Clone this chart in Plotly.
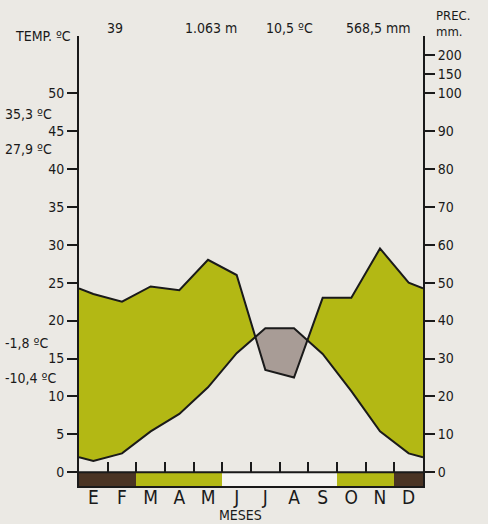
import plotly.graph_objects as go

# ---------------- data ----------------
months = ["E", "F", "M", "A", "M", "J", "J", "A", "S", "O", "N", "D"]
temp_c = [1.5, 2.5, 5.4, 7.7, 11.2, 15.7, 19.0, 19.0, 15.6, 10.7, 5.4, 2.5]
prec_mm = [47, 45, 49, 48, 56, 52, 27, 25, 46, 46, 59, 50]
frost = ["segura", "segura", "probable", "probable", "probable", "libre",
         "libre", "libre", "libre", "probable", "probable", "segura"]
temp_ticks = [0, 5, 10, 15, 20, 25, 30, 35, 40, 45, 50]
prec_ticks = [0, 10, 20, 30, 40, 50, 60, 70, 80, 90, 100, 150, 200]
header_vals = ["39", "1.063 m", "10,5 ºC", "568,5 mm"]
side_vals = ["35,3 ºC", "27,9 ºC", "-1,8 ºC", "-10,4 ºC"]

# ---------------- style ----------------
BG = "#ebe9e4"
GREEN = "#b3b814"
GRAY = "#a89c96"
frost_colors = {"segura": "#4a3424", "probable": GREEN, "libre": "#f5f4f0"}
FONT = "Liberation Sans Narrow, Arial Narrow, DejaVu Sans Condensed, sans-serif"
INK = "#1a1a1a"


def prec_axis(mm):
    """Walter-Lieth scale: 20 mm = 10 ºC up to 100 mm, then 1/10."""
    return mm / 2 if mm <= 100 else 50 + (mm - 100) / 20


n = len(months)
xm = [i + 0.5 for i in range(n)]
t_edge = (temp_c[0] + temp_c[-1]) / 2
p_edge = (prec_mm[0] + prec_mm[-1]) / 2
X = [0] + xm + [n]
T = [t_edge] + temp_c + [t_edge]
P = [prec_axis(p_edge)] + [prec_axis(v) for v in prec_mm] + [prec_axis(p_edge)]

# insert crossing points so both fills meet exactly
XX, TT, PP = [X[0]], [T[0]], [P[0]]
for i in range(1, len(X)):
    d0, d1 = P[i - 1] - T[i - 1], P[i] - T[i]
    if d0 * d1 < 0:
        f = d0 / (d0 - d1)
        xc = X[i - 1] + f * (X[i] - X[i - 1])
        yc = T[i - 1] + f * (T[i] - T[i - 1])
        XX.append(xc); TT.append(yc); PP.append(yc)
    XX.append(X[i]); TT.append(T[i]); PP.append(P[i])
MX = [max(a, b) for a, b in zip(TT, PP)]

Y0, Y1 = -1.8, 57.5

fig = go.Figure()
# frost band
fig.add_trace(go.Bar(x=xm, y=[-Y0] * n, base=[Y0] * n, width=1,
                     marker=dict(color=[frost_colors[f] for f in frost], line_width=0),
                     hoverinfo="skip", showlegend=False))
# humid fill
fig.add_trace(go.Scatter(x=XX, y=TT, mode="lines", line=dict(width=0), showlegend=False, hoverinfo="skip"))
fig.add_trace(go.Scatter(x=XX, y=MX, mode="lines", line=dict(width=0), fill="tonexty",
                         fillcolor=GREEN, showlegend=False, hoverinfo="skip"))
# arid fill
fig.add_trace(go.Scatter(x=XX, y=PP, mode="lines", line=dict(width=0), showlegend=False, hoverinfo="skip"))
fig.add_trace(go.Scatter(x=XX, y=MX, mode="lines", line=dict(width=0), fill="tonexty",
                         fillcolor=GRAY, showlegend=False, hoverinfo="skip"))
# lines
fig.add_trace(go.Scatter(x=X, y=T, mode="lines", line=dict(color=INK, width=2), showlegend=False))
fig.add_trace(go.Scatter(x=X, y=P, mode="lines", line=dict(color=INK, width=2), showlegend=False,
                         yaxis="y2"))
# helper trace for month-boundary tick axis
fig.add_trace(go.Scatter(x=[0], y=[0], mode="markers", marker=dict(opacity=0), showlegend=False,
                         hoverinfo="skip", xaxis="x2"))

axis_common = dict(showgrid=False, zeroline=False, linecolor=INK, linewidth=2, automargin=False,
                   tickcolor=INK, tickwidth=2, tickfont=dict(family=FONT, size=14, color=INK))

fig.update_layout(
    width=488, height=524,
    margin=dict(l=79, r=65, t=36, b=38),
    paper_bgcolor=BG, plot_bgcolor=BG,
    bargap=0,
    xaxis=dict(range=[0, n], showline=True, linecolor=INK, linewidth=2, showgrid=False,
               zeroline=False, tickvals=xm, ticktext=months, ticks="", automargin=False,
               tickfont=dict(family=FONT, size=19, color=INK), ticklabelstandoff=-7),
    xaxis2=dict(range=[0, n], overlaying="x", anchor="free", automargin=False,
                position=(0 - Y0) / (Y1 - Y0), showline=False, showgrid=False, zeroline=False,
                tickvals=list(range(1, n)), ticks="inside", ticklen=10, tickwidth=2,
                tickcolor=INK, showticklabels=False),
    yaxis=dict(range=[Y0, Y1], showline=True, tickvals=temp_ticks, ticks="outside", ticklen=10,
               **axis_common),
    yaxis2=dict(range=[Y0, Y1], overlaying="y", side="right", showline=True,
                tickvals=[prec_axis(v) for v in prec_ticks],
                ticktext=[str(v) for v in prec_ticks], ticks="outside", ticklen=10,
                **axis_common),
    shapes=[dict(type="line", xref="x", yref="y", x0=0, x1=n, y0=0, y1=0,
                 line=dict(color=INK, width=2))],
)

L, R, TOP, BOT = 79, 423, 36, 486


def ann(text, xp, yp, size=15, xanchor="center"):
    fig.add_annotation(text=text, xref="paper", yref="paper",
                       x=(xp - L) / (R - L), y=(BOT - yp) / (BOT - TOP),
                       showarrow=False, xanchor=xanchor, yanchor="middle",
                       font=dict(family=FONT, size=size, color=INK))


ann("TEMP. ºC", 43, 36, 14)
for txt, xp in zip(header_vals, [115, 211, 289, 378]):
    ann(txt, xp, 28, 14)
ann("PREC.", 434, 15.5, 13, "left")
ann("mm.", 434, 31.5, 13, "left")
for txt, yp in zip(side_vals, [114, 149, 343, 378]):
    ann(txt, 3, yp, 14, "left")
ann("MESES", 240, 515, 14)

fig.write_html("out.html", config={"displayModeBar": False},
               post_script="document.body.style.margin='0px';document.body.style.overflow='hidden';")
